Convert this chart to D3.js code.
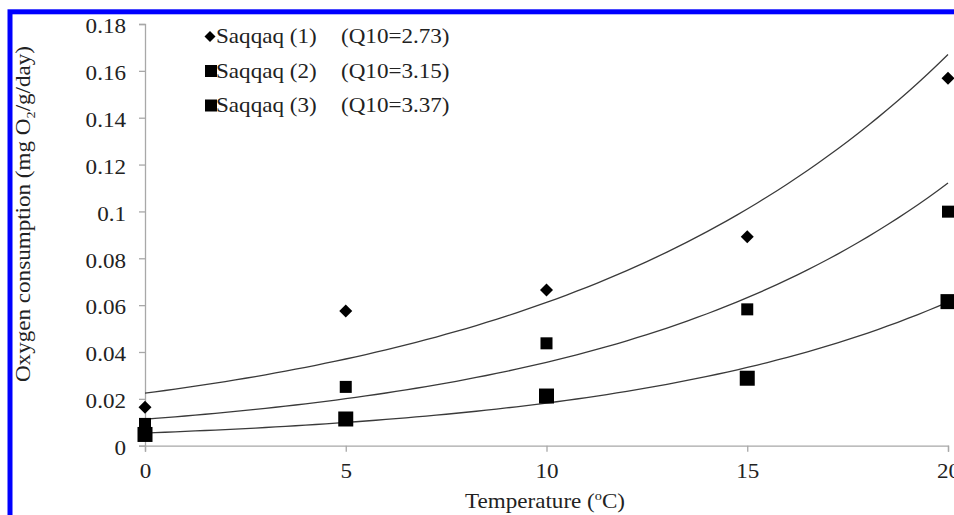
<!DOCTYPE html>
<html>
<head>
<meta charset="utf-8">
<script src="https://cdn.jsdelivr.net/npm/d3@7"></script>
<style>
html,body{margin:0;padding:0;background:#fff;}
svg{display:block;}
</style>
</head>
<body>
<script>
// ---- data ----
const temps = [0, 5, 10, 15, 20];
const saqqaq1 = [0.0164, 0.0575, 0.0665, 0.0892, 0.1568];
const saqqaq2 = [0.0093, 0.0251, 0.0437, 0.0582, 0.0999];
const saqqaq3 = [0.0048, 0.0114, 0.0212, 0.0288, 0.0615];
const seriesNames = ["Saqqaq (1)", "Saqqaq (2)", "Saqqaq (3)"];
const q10Labels = ["(Q10=2.73)", "(Q10=3.15)", "(Q10=3.37)"];
const fitIntercept = [0.0224, 0.0113, 0.0054];   // fitted value at 0 °C
const fitQ10 = [2.73, 3.15, 3.37];
const yTicks = [0, 0.02, 0.04, 0.06, 0.08, 0.1, 0.12, 0.14, 0.16, 0.18];
const yTickLabels = ["0", "0.02", "0.04", "0.06", "0.08", "0.1", "0.12", "0.14", "0.16", "0.18"];
const xTicks = [0, 5, 10, 15, 20];
const xTickLabels = ["0", "5", "10", "15", "20"];

// ---- layout ----
const W = 954, H = 515;
const sx = 1.1;          // horizontal stretch of the serif text
const FS = 21;
const FONT = "'Liberation Serif','Times New Roman',serif";
const TXT = "#222";
const AXC = "#a8a8a8";

const svg = d3.select("body").append("svg").attr("width", W).attr("height", H);
svg.append("rect").attr("width", W).attr("height", H).attr("fill", "#fff");

// blue frame
svg.append("rect").attr("x", 10).attr("y", 11.8).attr("width", W + 20).attr("height", H + 20)
  .attr("fill", "none").attr("stroke", "#0000ff").attr("stroke-width", 5);

const x = d3.scaleLinear().domain([0, 20]).range([145, 948]);
const y = d3.scaleLinear().domain([0, 0.18]).range([445.7, 24]);

// axes
const yAxis = d3.axisLeft(y).tickValues(yTicks).tickSize(6).tickPadding(13)
  .tickFormat((d, i) => yTickLabels[i]);
const gy = svg.append("g").attr("transform", `translate(${x(0)},0)`).call(yAxis);
const xAxis = d3.axisBottom(x).tickValues(xTicks).tickSize(6).tickPadding(11.6)
  .tickFormat((d, i) => xTickLabels[i]);
const gx = svg.append("g").attr("transform", `translate(0,${y(0)})`).call(xAxis);

[gx, gy].forEach(g => {
  g.select(".domain").attr("stroke", AXC).attr("stroke-width", 1.3);
  g.selectAll(".tick line").attr("stroke", AXC).attr("stroke-width", 1.3);
  g.selectAll(".tick text").attr("fill", TXT).attr("font-family", FONT).attr("font-size", FS);
});
gy.selectAll(".tick text").attr("x", -19 / sx).attr("dy", "0.42em").attr("transform", `scale(${sx},1)`);
gx.selectAll(".tick text").attr("transform", `scale(${sx},1)`)
  .attr("x", 0);

// fitted curves
const curveX = d3.range(0, 20.001, 0.25);
const line = d3.line().x(d => x(d[0])).y(d => y(d[1]));
fitIntercept.forEach((a, i) => {
  const pts = curveX.map(t => [t, a * Math.pow(fitQ10[i], t / 10)]);
  svg.append("path").attr("d", line(pts)).attr("fill", "none")
    .attr("stroke", "#3a3a3a").attr("stroke-width", 1.3);
});

// markers
function diamond(cx, cy, r) {
  return `M${cx},${cy - r}L${cx + r},${cy}L${cx},${cy + r}L${cx - r},${cy}Z`;
}
svg.append("g").selectAll("path").data(temps).join("path")
  .attr("d", (d, i) => diamond(x(d), y(saqqaq1[i]), 6.5)).attr("fill", "#000");
svg.append("g").selectAll("rect").data(temps).join("rect")
  .attr("x", (d, i) => x(d) - 6).attr("y", (d, i) => y(saqqaq2[i]) - 6)
  .attr("width", 12).attr("height", 12).attr("fill", "#000");
svg.append("g").selectAll("rect").data(temps).join("rect")
  .attr("x", (d, i) => x(d) - 7.5).attr("y", (d, i) => y(saqqaq3[i]) - 7.5)
  .attr("width", 15).attr("height", 15).attr("fill", "#000");

// text helper
function txt(px, py, anchor, rot) {
  return svg.append("text")
    .attr("transform", `translate(${px},${py})${rot ? " rotate(" + rot + ")" : ""} scale(${sx},1)`)
    .attr("text-anchor", anchor).attr("font-family", FONT).attr("font-size", FS).attr("fill", TXT);
}

// legend
const legY = [43, 77.5, 112];
seriesNames.forEach((nm, i) => {
  const cy = legY[i] - 6.5;
  if (i === 0) svg.append("path").attr("d", diamond(210, cy, 5.5)).attr("fill", "#000");
  else svg.append("rect").attr("x", 205).attr("y", cy - 6).attr("width", 12).attr("height", 12).attr("fill", "#000");
  txt(216, legY[i], "start").text(nm);
  txt(341, legY[i], "start").text(q10Labels[i]);
});

// x title
const xt = txt(545, 508, "middle");
xt.append("tspan").text("Temperature (");
xt.append("tspan").attr("font-size", 13).attr("dy", -8).text("o");
xt.append("tspan").attr("dy", 8).text("C)");

// y title
const yt = txt(30, 214, "middle", -90);
yt.append("tspan").text("Oxygen consumption (mg O");
yt.append("tspan").attr("font-size", 13).attr("dy", 5).text("2");
yt.append("tspan").attr("dy", -5).text("/g/day)");
</script>
</body>
</html>
